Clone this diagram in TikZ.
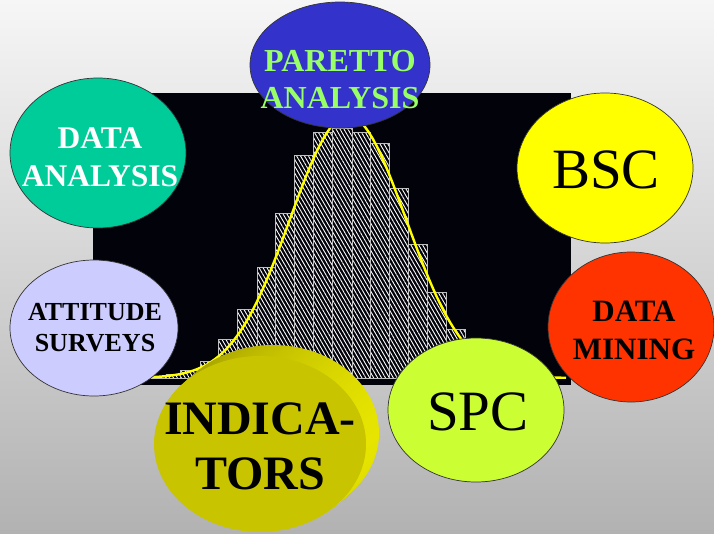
\documentclass[tikz,border=0pt]{standalone}
\usepackage{fontspec}
\setmainfont{Liberation Serif}
\usetikzlibrary{patterns.meta}
\definecolor{teal1}{HTML}{00CC99}
\definecolor{blue1}{HTML}{3333CC}
\definecolor{green1}{HTML}{99FF66}
\definecolor{yel1}{HTML}{FFFF00}
\definecolor{red1}{HTML}{FF3300}
\definecolor{lav1}{HTML}{CCCCFF}
\definecolor{lime1}{HTML}{CCFF33}
\definecolor{olv1}{HTML}{C8C400}
\definecolor{olvdark}{HTML}{9C9600}
\definecolor{olvlight}{HTML}{E6E400}
\definecolor{bgtop}{HTML}{F6F6F6}
\definecolor{bgbot}{HTML}{B2B2B2}
\definecolor{panel}{HTML}{02020A}
\begin{document}
\begin{tikzpicture}[x=1pt,y=-1pt,
  bubble/.style={draw=black!80, line width=0.7pt},
  bar/.style={pattern={Lines[angle=-60,distance=3.4pt,line width=0.9pt]}, pattern color=white, draw=white!75!black, line width=1pt},
  lbl/.style={align=center, inner sep=0pt}]
\useasboundingbox (0,0) rectangle (714,533);
\shade[top color=bgtop, bottom color=bgbot] (0,0) rectangle (714,533);
% panel
\fill[panel] (93,93) rectangle (571,385);
% histogram
\foreach \l/\r/\t in {152/166/376, 166/180/374, 180/200/370, 200/218/361, 218/237/339, 237/257/309, 257/275/267, 275/294/213, 294/313/155, 313/332/132, 332/352/128, 352/370/132, 370/389/143, 389/408/188, 408/427/244, 427/446/292, 446/465/329, 465/484/355, 484/503/368}
  \draw[bar] (\l,378) rectangle (\r,\t);
\draw[white!75!black, line width=0.8pt] (150,378) -- (560,378);
\draw[yel1, line width=2.4pt] plot[domain=148:566, samples=120] (\x, {378-262*exp(-0.5*((\x-348)/58)^2)});
% bubbles
\fill[bubble, fill=blue1] (340,65) ellipse [x radius=90, y radius=63];
\node[lbl, text=green1, font=\fontsize{32}{37}\selectfont\bfseries] (pareto) at (340,80) {PARETTO\\ANALYSIS};
\fill[bubble, fill=teal1] (98,153) ellipse [x radius=88, y radius=75];
\node[lbl, text=white, font=\fontsize{31.5}{38}\selectfont\bfseries] (danal) at (100,157) {DATA\\ANALYSIS};
\fill[bubble, fill=yel1] (605,168) ellipse [x radius=88, y radius=75];
\node[lbl, font=\fontsize{57}{60}\selectfont] (bsc) at (606,170) {BSC};
\fill[bubble, fill=lav1] (94,328) ellipse [x radius=84, y radius=68];
\node[lbl, font=\fontsize{26}{31}\selectfont\bfseries] (att) at (95,328) {ATTITUDE\\SURVEYS};
\fill[bubble, fill=red1] (631,327) ellipse [x radius=83, y radius=75];
\node[lbl, font=\fontsize{31}{38}\selectfont\bfseries] (dmin) at (634,330) {DATA\\MINING};
\fill[bubble, fill=lime1] (476,410) ellipse [x radius=88, y radius=72];
\node[lbl, font=\fontsize{57}{60}\selectfont] (spc) at (478,412) {SPC};
% indicators cylinder
\foreach \i in {13,12,...,1}
  \shade[left color=olvdark, right color=olvlight] (260+\i, {444-\i*11/13}) ellipse [x radius=106, y radius=88];
\fill[olv1] (260,444) ellipse [x radius=106, y radius=88];
\node[lbl, font=\fontsize{48}{55}\selectfont\bfseries] (ind) at (260,446) {INDICA-\\TORS};
\end{tikzpicture}
\end{document}
